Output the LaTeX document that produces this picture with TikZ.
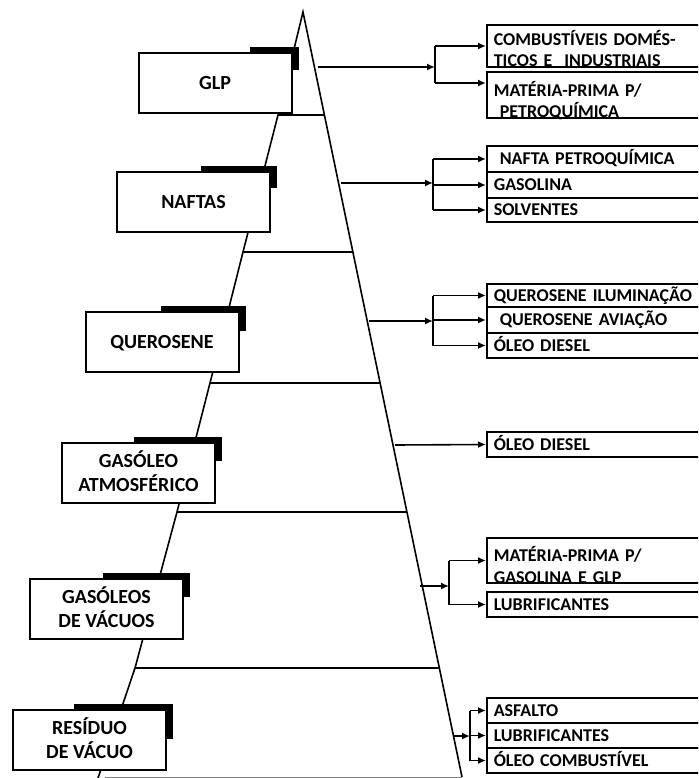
\documentclass[tikz,border=0pt]{standalone}
\usepackage{fontspec}
\setmainfont{Carlito}
\usetikzlibrary{shapes,arrows.meta,backgrounds}

\begin{document}
\begin{tikzpicture}[x=1pt, y=-1pt, >={Latex[length=8pt,width=7pt]}]
	% Define block styles
	\tikzstyle{cut} = [rectangle, draw, fill=white, line width=2pt, minimum width=153pt, minimum height=60pt, align=center, inner sep=0pt, text depth=0pt, font=\bfseries\fontsize{20}{24}\selectfont]
	\tikzstyle{product} = [rectangle, draw, fill=white, line width=1.6pt, anchor=west, minimum width=216pt, text width=202pt, inner xsep=7pt, inner ysep=0pt, align=left, text height=11.6pt, text depth=0pt, font=\bfseries\fontsize{18}{21.5}\selectfont]
	\tikzstyle{line} = [draw, line width=1.6pt]

	\useasboundingbox (0,0) rectangle (698,778);
	\clip (0,0) rectangle (698,778);

	% Column
	\path [line] (98,778) -- (135,668) -- (177,512) -- (210,383) -- (243,252) -- (278,115) -- (303,12) -- (462,777);
	\path [line] (278,115) -- (325,115);
	\path [line] (243,252) -- (353,252);
	\path [line] (210,383) -- (380,383);
	\path [line] (177,512) -- (407,512);
	\path [line] (135,668) -- (439,668);
	\draw [gray, line width=1pt] (105,777) -- (462,777);

	% Cuts
	\node [cut, text height=13pt] (glp) at (215,83) {GLP};
	\node [cut, text height=13pt] (naftas) at (193.5,202) {NAFTAS};
	\node [cut, text height=13pt] (querosene) at (162,342) {QUEROSENE};
	\node [cut, text height=37pt] (gasoleo atm) at (138.5,473) {GASÓLEO\\ATMOSFÉRICO};
	\node [cut, text height=37pt] (gasoleo vac) at (106.5,609) {GASÓLEOS\\DE VÁCUOS};
	\node [cut, text height=37pt] (residuo) at (89.5,739.5) {RESÍDUO\\DE VÁCUO};

	% Shadows
	\begin{pgfonlayer}{background}
		\foreach \cut/\len/\drop in {glp/43/18, naftas/70/17, querosene/79/20, gasoleo atm/82/19, gasoleo vac/81/19, residuo/93/30}
			\fill ([xshift=-\len pt, yshift=5pt]\cut.north east) rectangle ([xshift=6pt, yshift=-\drop pt]\cut.north east);
	\end{pgfonlayer}

	% Products
	\node [product, minimum height=42pt, text height=20.5pt, text depth=21.5pt] (comb dom) at (486,46) {COMBUSTÍVEIS DOMÉS-\\TICOS E~~INDUSTRIAIS};
	\node [product, minimum height=46pt, text height=24.5pt, text depth=21.5pt] (mat petroq) at (486,95) {MATÉRIA-PRIMA P/\\~PETROQUÍMICA};
	\node [product, minimum height=26pt] (nafta petroq) at (486,159) {~NAFTA PETROQUÍMICA};
	\node [product, minimum height=26pt] (gasolina) at (486,185) {GASOLINA};
	\node [product, minimum height=24pt] (solventes) at (486,210) {SOLVENTES};
	\node [product, minimum height=23pt] (quer ilum) at (486,295.5) {QUEROSENE ILUMINAÇÃO};
	\node [product, minimum height=26pt] (quer aviacao) at (486,320) {~QUEROSENE AVIAÇÃO};
	\node [product, minimum height=25pt] (diesel q) at (486,345.5) {ÓLEO DIESEL};
	\node [product, minimum height=25pt] (diesel) at (486,444.5) {ÓLEO DIESEL};
	\node [product, minimum height=45pt, text height=23.5pt, text depth=21.5pt] (mat gasolina) at (486,560.5) {MATÉRIA-PRIMA P/\\GASOLINA E GLP};
	\node [product, minimum height=25pt] (lubri gv) at (486,604.5) {LUBRIFICANTES};
	\node [product, minimum height=25pt] (asfalto) at (486,710.5) {ASFALTO};
	\node [product, minimum height=25pt] (lubri res) at (486,735.5) {LUBRIFICANTES};
	\node [product, minimum height=25pt] (oleo comb) at (486,760.5) {ÓLEO COMBUSTÍVEL};

	% Connecting lines
	\coordinate (glp out) at (318,67);
	\coordinate (glp fork) at (435,67);
	\coordinate (mat petroq in) at ([yshift=12pt]mat petroq.west);
	\coordinate (naftas out) at (341,183);
	\coordinate (naftas fork) at (433,183);
	\coordinate (quer out) at (369,321);
	\coordinate (quer fork) at (433,321);
	\coordinate (diesel out) at (395,445);
	\coordinate (gv out) at (420,586);
	\coordinate (gv fork) at (449,586);
	\coordinate (res out) at (454,736);
	\coordinate (res fork) at (470,736);

	\path [line, ->] (glp out) -- (glp fork);
	\path [line] (glp fork |- comb dom.west) -- (glp fork |- mat petroq in);
	\path [line, ->] (glp fork |- comb dom.west) -- (comb dom.west);
	\path [line, ->] (glp fork |- mat petroq in) -- (mat petroq in);

	\path [line, ->] (naftas out) -- (naftas fork);
	\path [line] (naftas fork |- nafta petroq.west) -- (naftas fork |- solventes.west);
	\path [line, ->] (naftas fork |- nafta petroq.west) -- (nafta petroq.west);
	\path [line, ->] (naftas fork |- gasolina.west) -- (gasolina.west);
	\path [line, ->] (naftas fork |- solventes.west) -- (solventes.west);

	\path [line, ->] (quer out) -- (quer fork);
	\path [line] (quer fork |- quer ilum.west) -- (quer fork |- diesel q.west);
	\path [line, ->] (quer fork |- quer ilum.west) -- (quer ilum.west);
	\path [line, ->] (quer fork |- quer aviacao.west) -- (quer aviacao.west);
	\path [line, ->] (quer fork |- diesel q.west) -- (diesel q.west);

	\path [line, ->] (diesel out) -- (diesel.west);

	\path [line, ->] (gv out) -- (gv fork);
	\path [line] (gv fork |- mat gasolina.west) -- (gv fork |- lubri gv.west);
	\path [line, ->] (gv fork |- mat gasolina.west) -- (mat gasolina.west);
	\path [line, ->] (gv fork |- lubri gv.west) -- (lubri gv.west);

	\path [line, ->] (res out) -- (res fork);
	\path [line] (res fork |- asfalto.west) -- (res fork |- oleo comb.west);
	\path [line, ->] (res fork |- asfalto.west) -- (asfalto.west);
	\path [line, ->] (res fork |- lubri res.west) -- (lubri res.west);
	\path [line, ->] (res fork |- oleo comb.west) -- (oleo comb.west);
\end{tikzpicture}
\end{document}
